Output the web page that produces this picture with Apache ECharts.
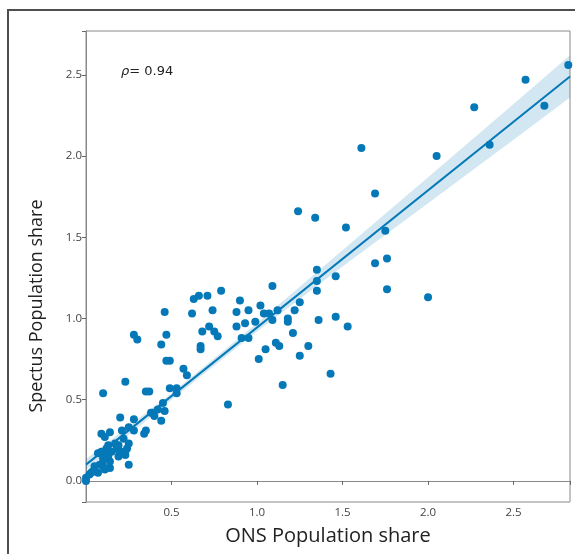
<!DOCTYPE html>
<html>
<head>
    <meta charset="utf-8">
    <title>ECharts</title>
    <script src="https://cdn.jsdelivr.net/npm/echarts@6/dist/echarts.min.js"></script>
</head>
<body style="margin:0">
<div id="main" style="width: 575px;height:554px;"></div>

<script type="text/javascript">

    // ONS share (x) vs Spectus share (y)
    var points = [
        [2.82, 2.56], [2.57, 2.47], [2.68, 2.31], [2.27, 2.30], [2.36, 2.07], [2.05, 2.00],
        [1.61, 2.05], [1.69, 1.77], [1.75, 1.54], [1.24, 1.66], [1.34, 1.62], [1.52, 1.56],
        [1.76, 1.37], [1.69, 1.34], [1.76, 1.18], [2.00, 1.13], [1.35, 1.30], [1.35, 1.23],
        [1.35, 1.17], [1.46, 1.26], [1.46, 1.01], [1.53, 0.95], [1.36, 0.99],
        [1.09, 1.20], [0.79, 1.17], [0.71, 1.14], [0.66, 1.14], [0.63, 1.12], [0.90, 1.11],
        [1.02, 1.08], [1.25, 1.10], [0.74, 1.05], [0.88, 1.04], [0.95, 1.05], [1.04, 1.03],
        [1.07, 1.03], [1.12, 1.05], [1.22, 1.05], [0.62, 1.03], [0.46, 1.04], [0.99, 0.98],
        [0.93, 0.97], [0.88, 0.95], [0.72, 0.95], [0.68, 0.92], [0.75, 0.92], [0.77, 0.89],
        [1.09, 0.99], [1.18, 1.00], [1.18, 0.98], [1.21, 0.91], [0.91, 0.88], [0.95, 0.88],
        [0.67, 0.83], [0.67, 0.81], [1.11, 0.85], [1.13, 0.83], [1.05, 0.81], [1.30, 0.83],
        [1.25, 0.77], [1.01, 0.75], [1.43, 0.66], [1.15, 0.59], [0.83, 0.47],
        [0.47, 0.90], [0.28, 0.90], [0.30, 0.87], [0.44, 0.84], [0.47, 0.74], [0.49, 0.74],
        [0.57, 0.69], [0.59, 0.65], [0.23, 0.61], [0.35, 0.55], [0.37, 0.55], [0.49, 0.57],
        [0.53, 0.57], [0.53, 0.54], [0.10, 0.54], [0.20, 0.39], [0.28, 0.38], [0.25, 0.33],
        [0.28, 0.31], [0.35, 0.31], [0.34, 0.29], [0.40, 0.40], [0.38, 0.42], [0.39, 0.42],
        [0.42, 0.44], [0.45, 0.48], [0.44, 0.37], [0.46, 0.43], [0.09, 0.29], [0.14, 0.30],
        [0.11, 0.27], [0.22, 0.26], [0.21, 0.31], [0.19, 0.22], [0.18, 0.21], [0.24, 0.20],
        [0.21, 0.18], [0.25, 0.23], [0.23, 0.18], [0.23, 0.16], [0.25, 0.10], [0.15, 0.18],
        [0.19, 0.15], [0.14, 0.12], [0.14, 0.08], [0.13, 0.15], [0.10, 0.13], [0.08, 0.10],
        [0.05, 0.09], [0.07, 0.17], [0.09, 0.18], [0.11, 0.17], [0.10, 0.15], [0.04, 0.06],
        [0.03, 0.05], [0.02, 0.04], [0.00, 0.02], [0.00, 0.00], [0.07, 0.05], [0.05, 0.06],
        [0.10, 0.09], [0.11, 0.07], [0.17, 0.23], [0.19, 0.19], [0.12, 0.20], [0.13, 0.22]
    ];

    // fitted line and its confidence band
    var fitLine = [[0, 0.10], [2.83, 2.49]];
    var bandX = [0, 0.5, 1.0, 1.5, 2.0, 2.5, 2.83];
    var bandLow = [0.065, 0.50, 0.92, 1.32, 1.71, 2.10, 2.36];
    var bandHigh = [0.135, 0.54, 0.97, 1.42, 1.87, 2.32, 2.62];

    var xTickLabels = ['0.5', '1.0', '1.5', '2.0', '2.5'];
    var yTickLabels = ['0.0', '0.5', '1.0', '1.5', '2.0', '2.5'];

    var blue = '#0578b8';
    var font = 'Open Sans';

    function tickFormatter(labels) {
        return function (v) {
            var s = v.toFixed(1);
            return labels.indexOf(s) >= 0 && Math.abs(v - parseFloat(s)) < 1e-6 ? s : '';
        };
    }

    var myChart = echarts.init(document.getElementById('main'));

    myChart.setOption({
        animation: false,
        backgroundColor: '#fff',
        grid: {
            left: 86, right: 5, top: 31, bottom: 52,
            show: true, borderColor: '#8a8a8a', borderWidth: 1
        },
        xAxis: {
            type: 'value',
            min: 0, max: 2.83,
            axisLine: {show: true, lineStyle: {color: '#8a8a8a'}},
            axisTick: {show: true, length: 4, lineStyle: {color: '#666'}},
            splitLine: {show: false},
            axisLabel: {
                color: '#444', fontFamily: font, fontSize: 11.5, margin: 5,
                formatter: tickFormatter(xTickLabels)
            }
        },
        yAxis: {
            type: 'value',
            min: -0.13, max: 2.77,
            axisLine: {show: true, lineStyle: {color: '#8a8a8a'}},
            axisTick: {show: true, length: 4, lineStyle: {color: '#666'}},
            splitLine: {show: false},
            axisLabel: {
                color: '#444', fontFamily: font, fontSize: 11.5, margin: 4,
                formatter: tickFormatter(yTickLabels)
            }
        },
        graphic: [
            {
                type: 'rect', silent: true, z: 100,
                shape: {x: 8, y: 10, width: 700, height: 700},
                style: {fill: 'none', stroke: '#4e4e4e', lineWidth: 2}
            },
            {
                type: 'text', silent: true, x: 328, y: 536,
                style: {
                    text: 'ONS Population share', fontFamily: font, fontSize: 20,
                    fill: '#222', align: 'center', verticalAlign: 'middle'
                }
            },
            {
                type: 'text', silent: true, x: 37, y: 306, rotation: Math.PI / 2,
                style: {
                    text: 'Spectus Population share', fontFamily: font, fontSize: 18,
                    fill: '#222', align: 'center', verticalAlign: 'middle'
                }
            },
            {
                type: 'text', silent: true, x: 121, y: 72,
                style: {
                    text: '{r|ρ}= 0.94', fontFamily: 'DejaVu Sans', fontSize: 13,
                    fill: '#222', verticalAlign: 'middle',
                    rich: {r: {fontStyle: 'italic', fontFamily: 'DejaVu Sans', fontSize: 13, fill: '#222'}}
                }
            }
        ],
        series: [
            {
                type: 'scatter',
                data: points,
                symbolSize: 8,
                itemStyle: {color: blue, opacity: 1},
                z: 2
            },
            {
                type: 'custom',
                data: [0],
                z: 3,
                silent: true,
                renderItem: function (params, api) {
                    var poly = [];
                    for (var i = 0; i < bandX.length; i++) poly.push(api.coord([bandX[i], bandHigh[i]]));
                    for (var j = bandX.length - 1; j >= 0; j--) poly.push(api.coord([bandX[j], bandLow[j]]));
                    return {
                        type: 'polygon',
                        shape: {points: poly},
                        style: {fill: 'rgba(5,120,184,0.18)', stroke: 'none'}
                    };
                }
            },
            {
                type: 'line',
                data: fitLine,
                symbol: 'none',
                lineStyle: {color: blue, width: 2},
                z: 4
            }
        ]
    });

</script>
</body>
</html>
